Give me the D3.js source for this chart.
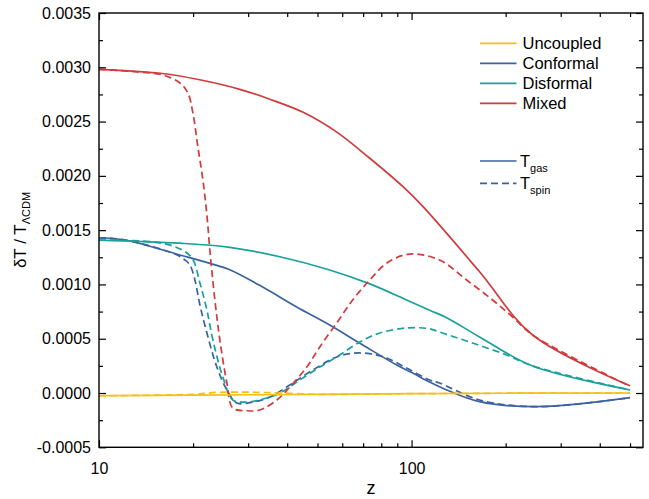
<!DOCTYPE html>
<html>
<head>
<meta charset="utf-8">
<script src="https://cdn.jsdelivr.net/npm/d3@7"></script>
<style>
  html, body { margin: 0; padding: 0; background: #fff; }
  svg { display: block; font-family: "Liberation Sans", Arial, sans-serif; }
</style>
</head>
<body>
<svg id="chart" width="649" height="499"></svg>
<script>
// ---------------- data ----------------
const xMajorTicks = [10, 100];
const xMinorTicks = [20, 30, 40, 50, 60, 70, 80, 90, 200, 300, 400, 500];
const yMajorTicks = [-0.0005, 0, 0.0005, 0.001, 0.0015, 0.002, 0.0025, 0.003, 0.0035];
const yMinorTicks = [-0.00025, 0.00025, 0.00075, 0.00125, 0.00175, 0.00225, 0.00275, 0.00325];

const seriesNames = ["Uncoupled", "Conformal", "Disformal", "Mixed"];
const seriesColors = ["#F7BE16", "#3A62A0", "#17A19A", "#D23A3B"];

// Uncoupled
const zUncGas = [10, 20, 50, 100, 200, 500];
const uncGas  = [-0.000025, -0.00002, -0.000012, -0.000006, -0.000002, 0.0];
const zUncSpin = [10, 20, 24, 30, 38, 50, 100, 200, 500];
const uncSpin  = [-0.000025, -0.000012, 0.000006, 0.000008, 0.0, -0.000012, -0.000006, -0.000002, 0.0];

// Conformal
const zConGas = [10, 12.11, 18.15, 23.5, 26.2, 33.4, 42.9, 54.7, 69.8, 89.6, 100.8, 114.2, 129.5, 165, 251, 500];
const conGas  = [0.00143, 0.001409, 0.001271, 0.00118, 0.001135, 0.000976, 0.000792, 0.000626, 0.000442, 0.000258, 0.000184, 0.000101, 0.000028, -0.00008, -0.000126, -0.000043];
const zConSpin = [10, 12.11, 17.5, 18.83, 19.54, 20.27, 21.03, 22.14, 23.83, 25.65, 27.6, 31.06, 35.2, 40.78, 48.3, 57.6, 64.8, 73.5, 83.3, 96.4, 114.2, 122.9, 165, 251, 500];
const conSpin  = [0.00143, 0.001409, 0.00128, 0.001225, 0.001179, 0.001041, 0.000811, 0.000553, 0.000239, 0.000028, -0.000092, -0.000083, -0.000037, 0.000074, 0.000212, 0.000332, 0.000366, 0.000362, 0.000322, 0.00023, 0.00012, 0.000092, -0.000064, -0.000126, -0.000043];

// Disformal
const zDisGas = [10, 18.15, 26.2, 37.9, 54.7, 73.5, 96.4, 114.2, 129.5, 165, 244, 500];
const disGas  = [0.001409, 0.00138, 0.001342, 0.001255, 0.001133, 0.001005, 0.000857, 0.000762, 0.000694, 0.000516, 0.000249, 0.000028];
const zDisSpin = [10, 15, 17.88, 19.83, 21.03, 22.14, 23.14, 24.9, 26.8, 29.72, 34.4, 37.9, 43.9, 50.85, 58.9, 68.3, 79.1, 96.4, 114.2, 122.9, 156.8, 201.4, 244, 500];
const disSpin  = [0.001409, 0.00139, 0.001336, 0.001243, 0.001013, 0.000764, 0.000488, 0.000147, -0.000064, -0.000083, -0.000046, 0.0, 0.00012, 0.000239, 0.00035, 0.00047, 0.000553, 0.000599, 0.000592, 0.000562, 0.00046, 0.00035, 0.000249, 0.000028];

// Mixed
const zMixGas = [10, 15.7, 21, 28.2, 35.2, 45, 57.5, 73.5, 93.9, 108.8, 165, 244, 500];
const mixGas  = [0.002981, 0.002945, 0.002885, 0.002797, 0.002706, 0.002585, 0.002405, 0.002162, 0.0019, 0.001716, 0.001117, 0.000534, 0.000067];
const zMixSpin = [10, 13, 16, 18.15, 19.25, 19.97, 20.72, 21.5, 22.14, 22.63, 23.48, 24.36, 25.65, 26.8, 29.72, 32.7, 37.06, 40.78, 46.2, 50.85, 57.6, 64.8, 73.5, 83.3, 98.6, 122.9, 150, 181.6, 210.5, 244, 500];
const mixSpin  = [0.002981, 0.00296, 0.002929, 0.002855, 0.002763, 0.002579, 0.002266, 0.001962, 0.001639, 0.001317, 0.000857, 0.000488, 0.000092, -0.000138, -0.000163, -0.000157, -0.000064, 0.000055, 0.000239, 0.000424, 0.000645, 0.000857, 0.001041, 0.001197, 0.00128, 0.001225, 0.001041, 0.000857, 0.0007, 0.000534, 0.000062];

// ---------------- chart ----------------
const svg = d3.select("#chart");
const mLeft = 99, mRight = 643, mTop = 13, mBottom = 447.3;
const x = d3.scaleLog().domain([10, 550]).range([mLeft, mRight]);
const y = d3.scaleLinear().domain([-0.0005, 0.0035]).range([mBottom, mTop]);

const line = d3.line()
  .x(d => x(d[0]))
  .y(d => y(d[1]))
  .curve(d3.curveCatmullRom.alpha(0.5));

const zip = (a, b) => a.map((v, i) => [v, b[i]]);

const curves = [
  { z: zConGas, v: conGas, c: seriesColors[1], dash: null },
  { z: zConSpin, v: conSpin, c: seriesColors[1], dash: "7,4" },
  { z: zDisGas, v: disGas, c: seriesColors[2], dash: null },
  { z: zDisSpin, v: disSpin, c: seriesColors[2], dash: "7,4" },
  { z: zMixGas, v: mixGas, c: seriesColors[3], dash: null },
  { z: zMixSpin, v: mixSpin, c: seriesColors[3], dash: "7,4" },
  { z: zUncGas, v: uncGas, c: seriesColors[0], dash: null },
  { z: zUncSpin, v: uncSpin, c: seriesColors[0], dash: "7,4" }
];

const plot = svg.append("g");
curves.forEach(s => {
  plot.append("path")
    .attr("d", line(zip(s.z, s.v)))
    .attr("fill", "none")
    .attr("stroke", s.c)
    .attr("stroke-width", 1.7)
    .attr("stroke-dasharray", s.dash);
});

// axes
function styleAxis(g) {
  g.select(".domain").remove();
  g.selectAll(".tick line").attr("stroke", "#000").attr("stroke-width", 1.2);
  g.selectAll("text").attr("fill", "#000");
}
const fmtY = v => v.toFixed(4);

svg.append("g").attr("transform", `translate(0,${mBottom})`)
  .call(d3.axisBottom(x).tickValues(xMajorTicks).tickSize(-7).tickPadding(15).tickFormat(d3.format("d")))
  .call(styleAxis).call(g => g.selectAll("text").attr("font-size", 16));
svg.append("g").attr("transform", `translate(0,${mBottom})`)
  .call(d3.axisBottom(x).tickValues(xMinorTicks).tickSize(-4).tickFormat(""))
  .call(styleAxis);
svg.append("g").attr("transform", `translate(0,${mTop})`)
  .call(d3.axisTop(x).tickValues(xMajorTicks).tickSize(-7).tickFormat(""))
  .call(styleAxis);
svg.append("g").attr("transform", `translate(0,${mTop})`)
  .call(d3.axisTop(x).tickValues(xMinorTicks).tickSize(-4).tickFormat(""))
  .call(styleAxis);

svg.append("g").attr("transform", `translate(${mLeft},0)`)
  .call(d3.axisLeft(y).tickValues(yMajorTicks).tickSize(-7).tickPadding(8).tickFormat(fmtY))
  .call(styleAxis).call(g => g.selectAll("text").attr("font-size", 16));
svg.append("g").attr("transform", `translate(${mLeft},0)`)
  .call(d3.axisLeft(y).tickValues(yMinorTicks).tickSize(-4).tickFormat(""))
  .call(styleAxis);
svg.append("g").attr("transform", `translate(${mRight},0)`)
  .call(d3.axisRight(y).tickValues(yMajorTicks).tickSize(-7).tickFormat(""))
  .call(styleAxis);
svg.append("g").attr("transform", `translate(${mRight},0)`)
  .call(d3.axisRight(y).tickValues(yMinorTicks).tickSize(-4).tickFormat(""))
  .call(styleAxis);

svg.append("rect")
  .attr("x", mLeft).attr("y", mTop)
  .attr("width", mRight - mLeft).attr("height", mBottom - mTop)
  .attr("fill", "none").attr("stroke", "#000").attr("stroke-width", 1.4);

// axis titles
svg.append("text")
  .attr("x", (mLeft + mRight) / 2).attr("y", 494)
  .attr("text-anchor", "middle").attr("font-size", 18)
  .text("z");

const yt = svg.append("text")
  .attr("transform", "translate(25.5,230) rotate(-90)")
  .attr("text-anchor", "middle").attr("font-size", 17);
yt.append("tspan").text("δT / T");
yt.append("tspan").attr("font-size", 11).attr("dy", 4).text("ΛCDM");

// legend
const lg = svg.append("g");
seriesNames.forEach((name, i) => {
  const ly = 43.3 + i * 20;
  lg.append("line").attr("x1", 480).attr("x2", 516.5).attr("y1", ly).attr("y2", ly)
    .attr("stroke", seriesColors[i]).attr("stroke-width", 1.7);
  lg.append("text").attr("x", 522.5).attr("y", ly).attr("dy", "0.36em")
    .attr("font-size", 16.5).text(name);
});
const typeNames = [["T", "gas"], ["T", "spin"]];
const typeDash = [null, "7,4"];
typeNames.forEach((t, i) => {
  const ly = 161 + i * 22.3;
  lg.append("line").attr("x1", 480).attr("x2", 516.5).attr("y1", ly).attr("y2", ly)
    .attr("stroke", seriesColors[1]).attr("stroke-width", 1.7)
    .attr("stroke-dasharray", typeDash[i]);
  const tx = lg.append("text").attr("x", 520).attr("y", ly).attr("dy", "0.36em").attr("font-size", 16.5);
  tx.append("tspan").text(t[0]);
  tx.append("tspan").attr("font-size", 11).attr("dy", 5).text(t[1]);
});
</script>
</body>
</html>
